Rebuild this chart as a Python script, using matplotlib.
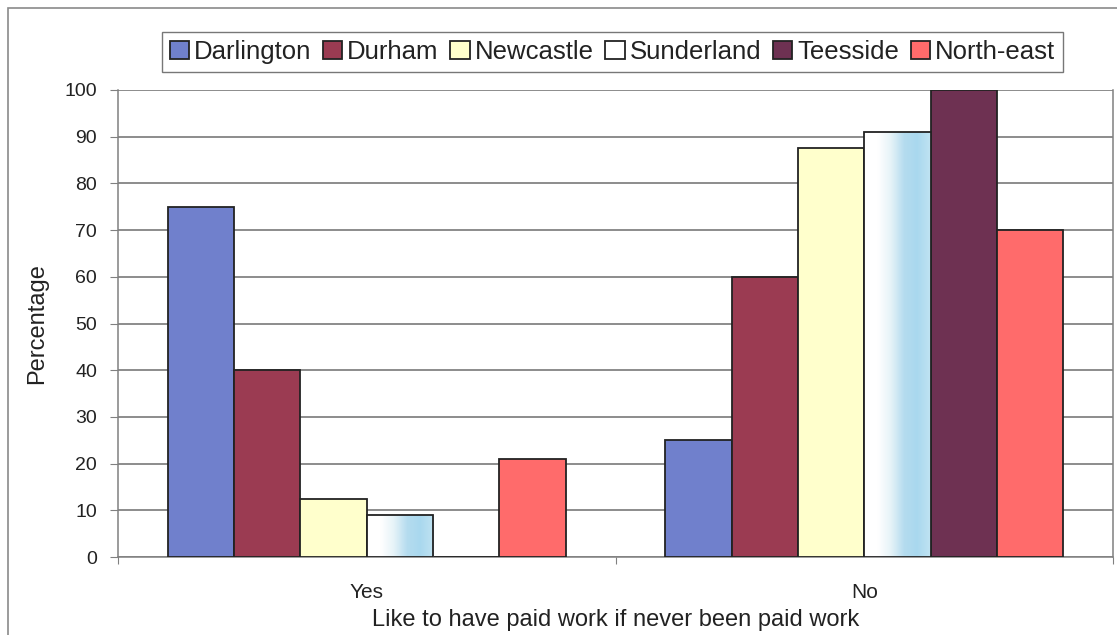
import matplotlib
matplotlib.use("Agg")
import matplotlib.pyplot as plt
import numpy as np
from matplotlib.patches import Rectangle
from matplotlib.colors import LinearSegmentedColormap

plt.rcParams['font.family'] = ['Liberation Sans', 'DejaVu Sans']

# data
groups = ['Yes', 'No']
regions = ['Darlington', 'Durham', 'Newcastle', 'Sunderland', 'Teesside', 'North-east']
darlington = [75, 25]
durham = [40, 60]
newcastle = [12.5, 87.5]
sunderland = [9, 91]
teesside = [0, 100]
north_east = [21, 70]
series = [darlington, durham, newcastle, sunderland, teesside, north_east]
colors = ['#7080cc', '#9b3b52', '#ffffcc', '#ffffff', '#6e3152', '#ff6b6b']
yticks = list(range(0, 101, 10))

fig = plt.figure(figsize=(11.17, 6.35), dpi=100)
ax = fig.add_axes([118 / 1117, 78 / 635, (1113 - 118) / 1117, (557 - 90) / 635])

# outer chart border
fig.patches.append(Rectangle((8 / 1117, -0.1), 1.2, 0.1 + (635 - 8) / 635,
                             transform=fig.transFigure, fill=False,
                             edgecolor='#8a8a8a', lw=1.2))

n = len(regions)
w = 0.8 / n
centers = np.arange(len(groups)) + 0.5
edge = '#222222'
sund_cmap = LinearSegmentedColormap.from_list(
    'sund', ['#ffffff', '#ffffff', '#e6f3f8', '#b5dcef', '#a9d8ee', '#c0e3f2'])
grad = np.linspace(0, 1, 64).reshape(1, -1)

handles = []
for i, (name, vals, c) in enumerate(zip(regions, series, colors)):
    xs = centers - 0.4 + w * (i + 0.5)
    bars = ax.bar(xs, vals, width=w, color=c, edgecolor=edge, linewidth=1.3,
                  zorder=3, label=name)
    handles.append(bars)
    if name == 'Sunderland':
        for b in bars:
            x0, y0 = b.get_x(), b.get_y()
            im = ax.imshow(grad, cmap=sund_cmap, aspect='auto', zorder=3.5,
                           extent=(x0, x0 + b.get_width(), y0, y0 + b.get_height()))
            im.set_clip_path(b)
            b.set_facecolor('none')
            b.set_zorder(4)

ax.set_xlim(0, len(groups))
ax.set_ylim(0, 100)
ax.set_yticks(yticks)
ax.set_yticklabels([str(t) for t in yticks], fontsize=14, color='#222222')
ax.yaxis.grid(True, color='#6e6e6e', lw=1.1, zorder=0)
ax.set_axisbelow(True)

ax.set_xticks([0, 1, 2])
ax.set_xticklabels([])
ax.set_xticks(centers, minor=True)
ax.set_xticklabels(groups, minor=True, fontsize=15, color='#222222')
ax.tick_params(axis='x', which='major', length=5, color='#808080', direction='out')
ax.tick_params(axis='x', which='minor', length=0, pad=19)
ax.tick_params(axis='y', length=6, color='#808080', pad=9)

for s in ['left', 'bottom', 'right']:
    ax.spines[s].set_color('#808080')
    ax.spines[s].set_linewidth(1.1)
ax.spines['top'].set_visible(False)

ax.set_ylabel('Percentage', fontsize=17, color='#222222', labelpad=12)
ax.set_xlabel('Like to have paid work if never been paid work', fontsize=17,
              color='#222222', labelpad=5)

leg = fig.legend(handles=handles, labels=regions, loc='center', ncol=6,
                 bbox_to_anchor=((157 + 1068) / 2 / 1117, 1 - 52 / 635),
                 fontsize=18.5, frameon=True, fancybox=False, edgecolor='#555555',
                 handlelength=0.75, handleheight=0.75, handletextpad=0.2,
                 columnspacing=0.45, borderpad=0.3, borderaxespad=0)
leg.get_frame().set_linewidth(1.0)
for t in leg.get_texts():
    t.set_color('#222222')

fig.savefig('out.png', dpi=100)
